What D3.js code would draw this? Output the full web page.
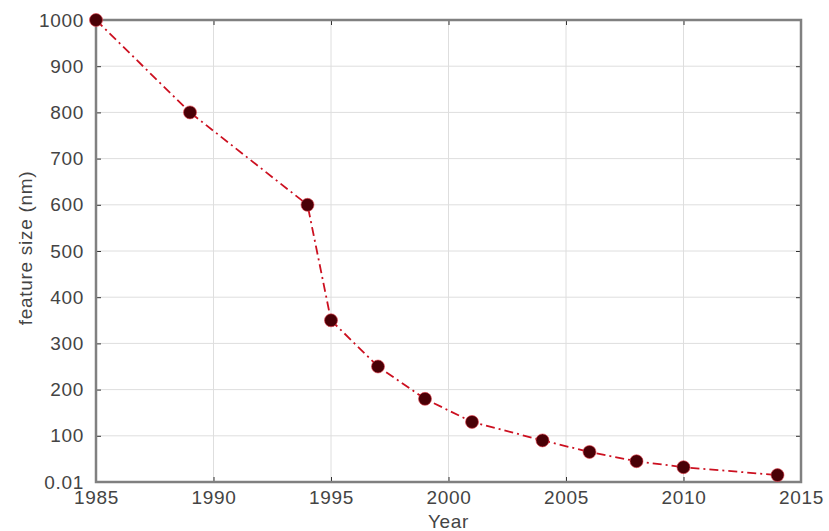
<!DOCTYPE html>
<html>
<head>
<meta charset="utf-8">
<script src="https://cdn.jsdelivr.net/npm/d3@7"></script>
<style>
  body { margin: 0; background: #fff; }
  svg { display: block; font-family: "Liberation Sans", Arial, sans-serif; }
</style>
</head>
<body>
<div id="chart"></div>
<script>
const years = [1985, 1989, 1994, 1995, 1997, 1999, 2001, 2004, 2006, 2008, 2010, 2014];
const sizes = [1000, 800, 600, 350, 250, 180, 130, 90, 65, 45, 32, 15];
const xTicks = [1985, 1990, 1995, 2000, 2005, 2010, 2015];
const yTicks = [0, 100, 200, 300, 400, 500, 600, 700, 800, 900, 1000];
const yTickLabels = ["0.01", "100", "200", "300", "400", "500", "600", "700", "800", "900", "1000"];

const data = years.map((y, i) => ({year: y, size: sizes[i]}));

let width = 829, height = 531,
  margin = {top: 20, right: 28, bottom: 49, left: 96};

let x = d3.scaleLinear()
  .domain([1985, 2015])
  .range([margin.left, width - margin.right]);

let y = d3.scaleLinear()
  .domain([0, 1000])
  .range([height - margin.bottom, margin.top]);

const svg = d3.select("#chart")
  .append("svg")
  .attr("width", width)
  .attr("height", height);

const textStyle = t => t
  .attr("font-size", 19)
  .attr("letter-spacing", 0.7)
  .attr("fill", "#444")
  .attr("font-family", "Liberation Sans, Arial, sans-serif");

// grid
svg.append("g")
  .selectAll("line")
  .data(xTicks.slice(1, -1))
  .join("line")
  .attr("x1", d => x(d)).attr("x2", d => x(d))
  .attr("y1", y(0)).attr("y2", y(1000))
  .attr("stroke", "#dedede").attr("stroke-width", 1);

svg.append("g")
  .selectAll("line")
  .data(yTicks.slice(1, -1))
  .join("line")
  .attr("x1", x(1985)).attr("x2", x(2015))
  .attr("y1", d => y(d)).attr("y2", d => y(d))
  .attr("stroke", "#dedede").attr("stroke-width", 1);

// axes with inward ticks
svg.append("g")
  .attr("transform", `translate(0,${y(0)})`)
  .call(d3.axisBottom(x).tickValues(xTicks).tickFormat(d3.format("d")).tickSize(-5).tickPadding(9))
  .call(g => g.select(".domain").remove())
  .call(g => g.selectAll(".tick line").attr("stroke", "#333"))
  .call(g => g.selectAll(".tick text").call(textStyle));

svg.append("g")
  .attr("transform", `translate(${x(1985)},0)`)
  .call(d3.axisLeft(y).tickValues(yTicks).tickFormat((d, i) => yTickLabels[i]).tickSize(-5).tickPadding(12))
  .call(g => g.select(".domain").remove())
  .call(g => g.selectAll(".tick line").attr("stroke", "#333"))
  .call(g => g.selectAll(".tick text").call(textStyle));

svg.append("g")
  .attr("transform", `translate(${x(2015)},0)`)
  .call(d3.axisRight(y).tickValues(yTicks).tickFormat("").tickSize(-5))
  .call(g => g.select(".domain").remove())
  .call(g => g.selectAll(".tick line").attr("stroke", "#333"));

svg.append("g")
  .attr("transform", `translate(0,${y(1000)})`)
  .call(d3.axisTop(x).tickValues(xTicks).tickFormat("").tickSize(-5))
  .call(g => g.select(".domain").remove())
  .call(g => g.selectAll(".tick line").attr("stroke", "#333"));

// box
svg.append("rect")
  .attr("x", x(1985)).attr("y", y(1000))
  .attr("width", x(2015) - x(1985)).attr("height", y(0) - y(1000))
  .attr("fill", "none").attr("stroke", "#808080").attr("stroke-width", 2.5);

// line
let line = d3.line()
  .x(d => x(d.year))
  .y(d => y(d.size));

svg.append("path")
  .datum(data)
  .attr("fill", "none")
  .attr("stroke", "#cc1020")
  .attr("stroke-width", 1.8)
  .attr("stroke-dasharray", "9,4,2,4")
  .attr("d", line);

svg.append("g")
  .selectAll("circle")
  .data(data)
  .join("circle")
  .attr("cx", d => x(d.year))
  .attr("cy", d => y(d.size))
  .attr("r", 6.5)
  .attr("fill", "#4a0006")
  .attr("stroke", "#e8404c")
  .attr("stroke-opacity", 0.6)
  .attr("stroke-width", 1);

// labels
svg.append("text")
  .attr("x", (x(1985) + x(2015)) / 2)
  .attr("y", 528)
  .attr("text-anchor", "middle")
  .call(textStyle)
  .text("Year");

svg.append("text")
  .attr("transform", `translate(32,248) rotate(-90)`)
  .attr("text-anchor", "middle")
  .call(textStyle)
  .text("feature size (nm)");
</script>
</body>
</html>
